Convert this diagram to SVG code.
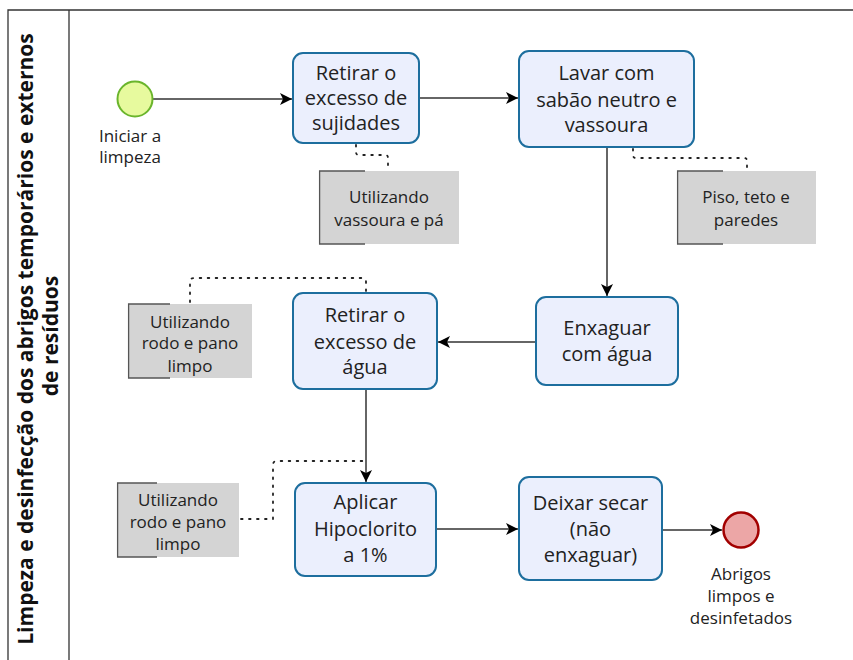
<svg xmlns="http://www.w3.org/2000/svg" width="853" height="660" viewBox="0 0 853 660">
<style>
.frame{fill:none;stroke:#333;stroke-width:1.3}
.task{fill:#ebeffd;stroke:#1d6e9e;stroke-width:2}
.annot{fill:#d4d4d4;stroke:none}
.brk{fill:none;stroke:#555;stroke-width:1.3}
.flow{fill:none;stroke:#333;stroke-width:1.5}
.assoc{fill:none;stroke:#222;stroke-width:1.8;stroke-dasharray:1.6 6.4;stroke-linecap:round}
.t{font-family:"Open Sans","Noto Sans",sans-serif;font-size:20px;fill:#222;text-anchor:middle}
.a{font-family:"Open Sans","Noto Sans",sans-serif;font-size:17px;fill:#222;text-anchor:middle}
.lane{font-family:"Open Sans","Noto Sans",sans-serif;font-size:21px;font-weight:bold;fill:#111;text-anchor:middle}
</style>
<defs>
<marker id="arr" markerWidth="14" markerHeight="12" refX="12" refY="6" orient="auto" markerUnits="userSpaceOnUse">
<path d="M0,0 L12,6 L0,12 L3,6 Z" fill="#000"/>
</marker>
</defs>
<g id="lane">
<path class="frame" d="M853,10 H8 V660 M69,10 V660"/>
<text class="lane" transform="translate(33,339) rotate(-90)">Limpeza e desinfecção dos abrigos temporários e externos</text>
<text class="lane" transform="translate(58,336) rotate(-90)">de resíduos</text>
</g>
<g id="connectors">
<line class="flow" x1="153" y1="99" x2="292" y2="99" marker-end="url(#arr)"/>
<line class="flow" x1="419" y1="98" x2="518" y2="98" marker-end="url(#arr)"/>
<line class="flow" x1="607" y1="147" x2="607" y2="296" marker-end="url(#arr)"/>
<line class="flow" x1="536" y1="342" x2="438" y2="342" marker-end="url(#arr)"/>
<line class="flow" x1="366" y1="389" x2="366" y2="482" marker-end="url(#arr)"/>
<line class="flow" x1="436" y1="529" x2="518" y2="529" marker-end="url(#arr)"/>
<line class="flow" x1="662" y1="530" x2="722" y2="530" marker-end="url(#arr)"/>
<path class="assoc" d="M356,145 V152 Q356,155 359,155 H385 Q388,155 388,158 V171"/>
<path class="assoc" d="M633,149 V155 Q633,158 636,158 H744 Q747,158 747,161 V171"/>
<path class="assoc" d="M190,302 V282 Q190,278 194,278 H362 Q366,278 366,282 V292"/>
<path class="assoc" d="M241,519 H273 V465 Q273,461 277,461 H364"/>
</g>
<g id="start">
<circle cx="135" cy="99" r="17.5" fill="#e7fa9e" stroke="#6ab52c" stroke-width="2"/>
<text class="a"><tspan x="130" y="142">Iniciar a</tspan><tspan x="130" y="163">limpeza</tspan></text>
</g>
<g id="task1">
<rect class="task" x="293" y="53" width="126" height="90" rx="10"/>
<text class="t"><tspan x="356" y="80">Retirar o</tspan><tspan x="356" y="105">excesso de</tspan><tspan x="356" y="130">sujidades</tspan></text>
</g>
<g id="annot1">
<rect class="annot" x="319" y="171" width="140" height="73"/>
<path class="brk" d="M365,171 H319.6 V244 H365"/>
<text class="a"><tspan x="389" y="203">Utilizando</tspan><tspan x="389" y="226">vassoura e pá</tspan></text>
</g>
<g id="task2">
<rect class="task" x="519" y="51" width="175" height="96" rx="10"/>
<text class="t"><tspan x="606.5" y="80">Lavar com</tspan><tspan x="606.5" y="107">sabão neutro e</tspan><tspan x="606.5" y="132">vassoura</tspan></text>
</g>
<g id="annot2">
<rect class="annot" x="677" y="171" width="139" height="73"/>
<path class="brk" d="M723,171 H677.6 V244 H723"/>
<text class="a"><tspan x="746" y="203">Piso, teto e</tspan><tspan x="746" y="226">paredes</tspan></text>
</g>
<g id="task3">
<rect class="task" x="536" y="297" width="142" height="88" rx="10"/>
<text class="t"><tspan x="607" y="335">Enxaguar</tspan><tspan x="607" y="361">com água</tspan></text>
</g>
<g id="task4">
<rect class="task" x="293" y="293" width="144" height="96" rx="10"/>
<text class="t"><tspan x="365" y="322">Retirar o</tspan><tspan x="365" y="349">excesso de</tspan><tspan x="365" y="374">água</tspan></text>
</g>
<g id="annot3">
<rect class="annot" x="128" y="304" width="124" height="74"/>
<path class="brk" d="M170,304 H128.6 V378 H170"/>
<text class="a"><tspan x="190" y="328">Utilizando</tspan><tspan x="190" y="349">rodo e pano</tspan><tspan x="190" y="372">limpo</tspan></text>
</g>
<g id="task5">
<rect class="task" x="295" y="483" width="141" height="93" rx="10"/>
<text class="t"><tspan x="365.5" y="509">Aplicar</tspan><tspan x="365.5" y="536">Hipoclorito</tspan><tspan x="365.5" y="562">a 1%</tspan></text>
</g>
<g id="annot4">
<rect class="annot" x="117" y="483" width="122" height="74"/>
<path class="brk" d="M157,483 H117.6 V557 H157"/>
<text class="a"><tspan x="178" y="506">Utilizando</tspan><tspan x="178" y="528">rodo e pano</tspan><tspan x="178" y="550">limpo</tspan></text>
</g>
<g id="task6">
<rect class="task" x="519" y="477" width="143" height="103" rx="10"/>
<text class="t"><tspan x="590.5" y="510">Deixar secar</tspan><tspan x="590.5" y="536">(não</tspan><tspan x="590.5" y="562">enxaguar)</tspan></text>
</g>
<g id="end">
<circle cx="741" cy="530" r="17.5" fill="#eca6a6" stroke="#a20000" stroke-width="2.5"/>
<text class="a"><tspan x="741" y="580">Abrigos</tspan><tspan x="741" y="602">limpos e</tspan><tspan x="741" y="624">desinfetados</tspan></text>
</g>
</svg>
